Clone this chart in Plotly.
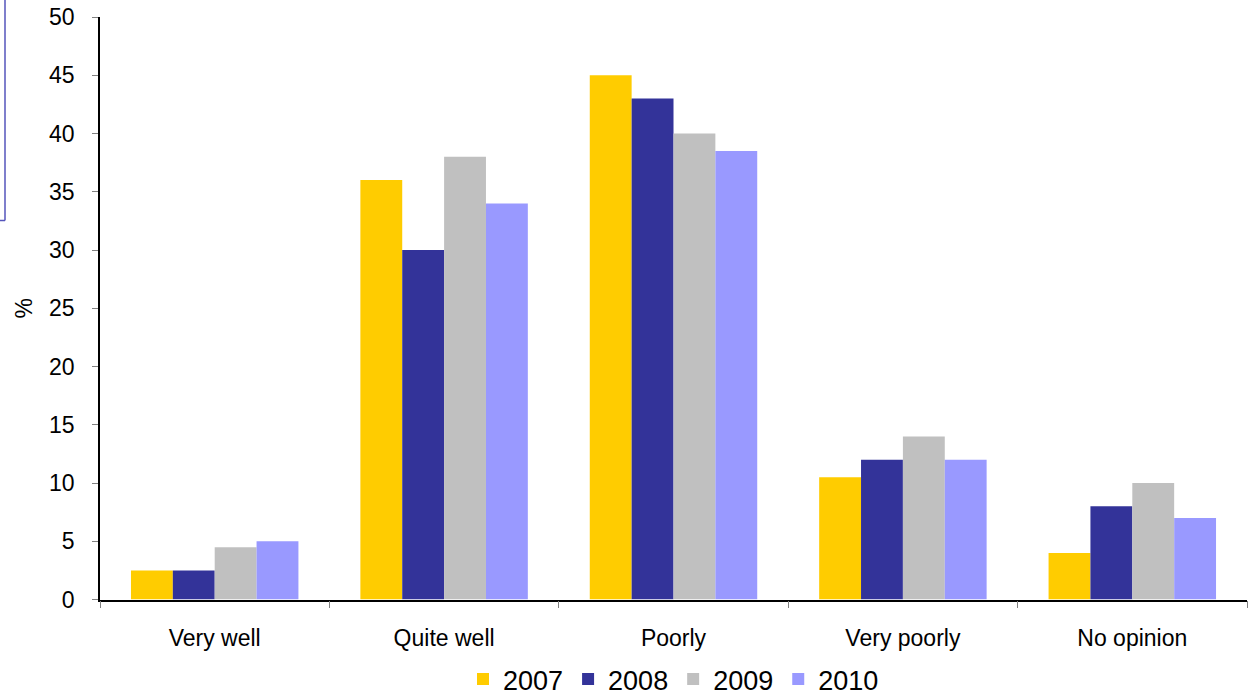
import plotly.graph_objects as go

categories = ["Very well", "Quite well", "Poorly", "Very poorly", "No opinion"]
years = ["2007", "2008", "2009", "2010"]
v2007 = [2.5, 36, 45, 10.5, 4]
v2008 = [2.5, 30, 43, 12, 8]
v2009 = [4.5, 38, 40, 14, 10]
v2010 = [5, 34, 38.5, 12, 7]
series = [v2007, v2008, v2009, v2010]
colors = ["#FFCC00", "#333399", "#C0C0C0", "#9999FF"]

W, H = 1251, 699
ml, mr, mt, mb = 100, 4, 16, 99

fig = go.Figure()
for name, vals, c in zip(years, series, colors):
    fig.add_trace(go.Bar(x=categories, y=vals, name=name, marker=dict(color=c, line=dict(width=0))))

def px_x(px):
    return (px - ml) / (W - ml - mr)

def px_y(py):
    return (H - mb - py) / (H - mt - mb)

fig.update_layout(
    width=W, height=H,
    margin=dict(l=ml, r=mr, t=mt, b=mb),
    paper_bgcolor="white", plot_bgcolor="white",
    font=dict(family="Liberation Sans, Arial, sans-serif", color="black", size=23),
    barmode="group", bargap=0.27, bargroupgap=0,
    showlegend=True,
    legend=dict(orientation="h", x=0.5, xanchor="center", yref="container", y=0.028, yanchor="middle",
                font=dict(size=27), itemwidth=30, tracegroupgap=0),
    xaxis=dict(showline=True, linecolor="black", linewidth=1.5, ticks="outside", tickson="boundaries",
               ticklen=7, tickcolor="#808080", tickfont=dict(size=23), showgrid=False,
               ticklabelstandoff=17),
    yaxis=dict(range=[0, 50], dtick=5, showline=True, linecolor="black", linewidth=1.5,
               ticks="outside", ticklen=6, tickcolor="#808080", showgrid=False, zeroline=False,
               tickfont=dict(size=23), ticklabelstandoff=13,
               title=dict(text="%", font=dict(size=23), standoff=10)),
    shapes=[
        dict(type="line", xref="paper", yref="paper", x0=px_x(5), x1=px_x(5), y0=px_y(-5), y1=px_y(220),
             line=dict(color="#5555BB", width=1.5)),
        dict(type="line", xref="paper", yref="paper", x0=px_x(-5), x1=px_x(5), y0=px_y(220), y1=px_y(220),
             line=dict(color="#5555BB", width=1.5)),
    ],
)

fig.write_html("out.html")
